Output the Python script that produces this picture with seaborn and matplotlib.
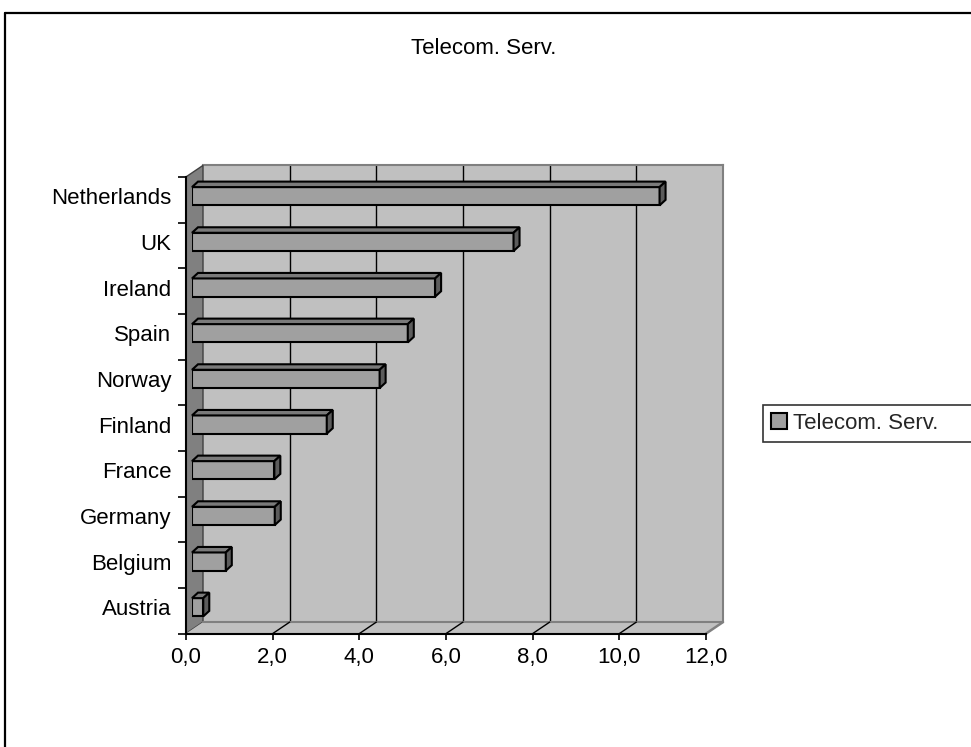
import matplotlib
matplotlib.use("Agg")
import matplotlib.pyplot as plt
import seaborn as sns
import pandas as pd
from matplotlib.patches import Polygon, Rectangle
from matplotlib.lines import Line2D
from matplotlib.ticker import FuncFormatter

countries = ["Netherlands", "UK", "Ireland", "Spain", "Norway",
             "Finland", "France", "Germany", "Belgium", "Austria"]
values = [10.79, 7.42, 5.61, 4.98, 4.33, 3.11, 1.90, 1.91, 0.78, 0.26]
series_name = "Telecom. Serv."
xticks = [0, 2, 4, 6, 8, 10, 12]

sns.set_theme(style="white")
plt.rcParams["font.family"] = ["Liberation Sans", "DejaVu Sans"]

W, H = 971, 747
fig = plt.figure(figsize=(W / 100, H / 100), dpi=100)
fig.patch.set_facecolor("white")

def rect(left, top, width, bottom):
    return [left / W, (H - bottom) / H, width / W, (bottom - top) / H]

# pixel geometry of the bar plane
BL, BT, BW, BB = 192, 173.4, 520, 630.1
FDX, FDY = -6, 3.5     # front plane offset (px)
KDX, KDY = 11, -8      # back plane offset (px)
sx = BW / 12.0
sy = (BB - BT) / 10.0

ax_back = fig.add_axes(rect(BL + KDX, BT + KDY, BW, BB + KDY), zorder=0)
ax = fig.add_axes(rect(BL, BT, BW, BB), zorder=1)
ax_front = fig.add_axes(rect(BL + FDX, BT + FDY, BW, BB + FDY), zorder=2)

# ---- back wall
ax_back.set_facecolor("#c0c0c0")
ax_back.set_xlim(0, 12)
ax_back.set_ylim(9.5, -0.5)
ax_back.set_xticks([2, 4, 6, 8, 10])
ax_back.set_yticks([])
ax_back.tick_params(axis="x", length=0, labelbottom=False)
ax_back.grid(axis="x", color="black", linewidth=1.0)
for s in ["left", "bottom"]:
    ax_back.spines[s].set_visible(False)
for s in ["top", "right"]:
    ax_back.spines[s].set_color("#808080")
    ax_back.spines[s].set_linewidth(1.5)

# ---- bars (front faces) via seaborn
df = pd.DataFrame({"country": countries, "value": values})
front_col = "#a0a0a0"
sns.barplot(data=df, x="value", y="country", order=countries, orient="h",
            color=front_col, saturation=1, width=0.4, edgecolor="black",
            linewidth=1.5, ax=ax, label=series_name, legend=False)
bars = [p for p in ax.patches if isinstance(p, Rectangle)]
ax.set_xlim(0, 12)
ax.set_ylim(9.5, -0.5)
ax.patch.set_visible(False)
for s in ax.spines.values():
    s.set_visible(False)
ax.set_xlabel("")
ax.set_ylabel("")
ax.set_xticks([])
ax.tick_params(axis="y", length=0, pad=15, labelsize=16, labelcolor="black")

# offsets in data units
fdx, fdy = FDX / sx, FDY / sy
kdx, kdy = KDX / sx, KDY / sy
bdx, bdy = 6 / sx, -5.5 / sy

# side wall
side = Polygon([(fdx, -0.5 + fdy), (fdx, 9.5 + fdy), (kdx, 9.5 + kdy), (kdx, -0.5 + kdy)],
               closed=True, facecolor="#808080", edgecolor="#404040", linewidth=1.0,
               clip_on=False, zorder=0.2)
ax.add_patch(side)
# floor
floor = Polygon([(fdx, 9.5 + fdy), (12 + fdx, 9.5 + fdy), (12 + kdx, 9.5 + kdy), (kdx, 9.5 + kdy)],
                closed=True, facecolor="#c0c0c0", edgecolor="none",
                clip_on=False, zorder=0.3)
ax.add_patch(floor)
ax.add_line(Line2D([kdx, 12 + kdx], [9.5 + kdy, 9.5 + kdy], color="#808080",
                   linewidth=1.5, clip_on=False, zorder=0.35))
for t in xticks[1:]:
    col = "black" if t < 12 else "#808080"
    lw = 1.0 if t < 12 else 1.8
    ax.add_line(Line2D([t + fdx, t + kdx], [9.5 + fdy, 9.5 + kdy], color=col,
                       linewidth=lw, clip_on=False, zorder=0.4))

# 3D faces for bars
for p in bars:
    p.set_zorder(1)
    x0, y0 = p.get_x(), p.get_y()
    w, h = p.get_width(), p.get_height()
    ytop, ybot = min(y0, y0 + h), max(y0, y0 + h)
    top = Polygon([(x0, ytop), (x0 + w, ytop), (x0 + w + bdx, ytop + bdy), (x0 + bdx, ytop + bdy)],
                  closed=True, facecolor="#7a7a7a", edgecolor="black", linewidth=1.5,
                  clip_on=False, zorder=1.1, joinstyle="miter")
    sidef = Polygon([(x0 + w, ytop), (x0 + w, ybot), (x0 + w + bdx, ybot + bdy), (x0 + w + bdx, ytop + bdy)],
                    closed=True, facecolor="#5c5c5c", edgecolor="black", linewidth=1.5,
                    clip_on=False, zorder=1.1, joinstyle="miter")
    ax.add_patch(top)
    ax.add_patch(sidef)

# ---- front axes: spines, ticks, labels
ax_front.patch.set_visible(False)
ax_front.set_xlim(0, 12)
ax_front.set_ylim(9.5, -0.5)
for s in ["top", "right"]:
    ax_front.spines[s].set_visible(False)
for s in ["left", "bottom"]:
    ax_front.spines[s].set_color("black")
    ax_front.spines[s].set_linewidth(1.5)
ax_front.set_xticks(xticks)
ax_front.xaxis.set_major_formatter(FuncFormatter(lambda v, pos: f"{v:.1f}".replace(".", ",")))
ax_front.set_yticks([i - 0.5 for i in range(11)])
ax_front.set_yticklabels([])
ax_front.tick_params(axis="x", direction="out", length=4.5, width=1.2, color="black",
                     bottom=True, labelsize=16, labelcolor="black", pad=5)
ax_front.tick_params(axis="y", direction="out", length=6, width=1.2, color="black", left=True)

# ---- title
fig.text(484 / W, 1 - 48 / H, "Telecom. Serv.", ha="center", va="center",
         fontsize=16, color="black")

# ---- legend (frame runs past the right edge of the chart area, as in the reference)
handles = [Rectangle((0, 0), 1, 1, facecolor=front_col, edgecolor="black", linewidth=1.5)]
leg = fig.legend(handles, [series_name], loc="upper left",
                 bbox_to_anchor=(763 / W, 1 - 441 / H, 240 / W, 36 / H), mode="expand",
                 frameon=True, fancybox=False,
                 fontsize=16, handlelength=0.75, handleheight=0.75, handletextpad=0.25,
                 borderpad=0.35, borderaxespad=0)
leg.get_frame().set_edgecolor("black")
leg.get_frame().set_linewidth(1.2)

# ---- chart area border (top and left visible)
fig.add_artist(Line2D([5 / W, 1.0], [1 - 13 / H, 1 - 13 / H], transform=fig.transFigure,
                      color="black", linewidth=1.6))
fig.add_artist(Line2D([5 / W, 5 / W], [0, 1 - 13 / H], transform=fig.transFigure,
                      color="black", linewidth=1.6))

fig.savefig("out.png", dpi=100)
